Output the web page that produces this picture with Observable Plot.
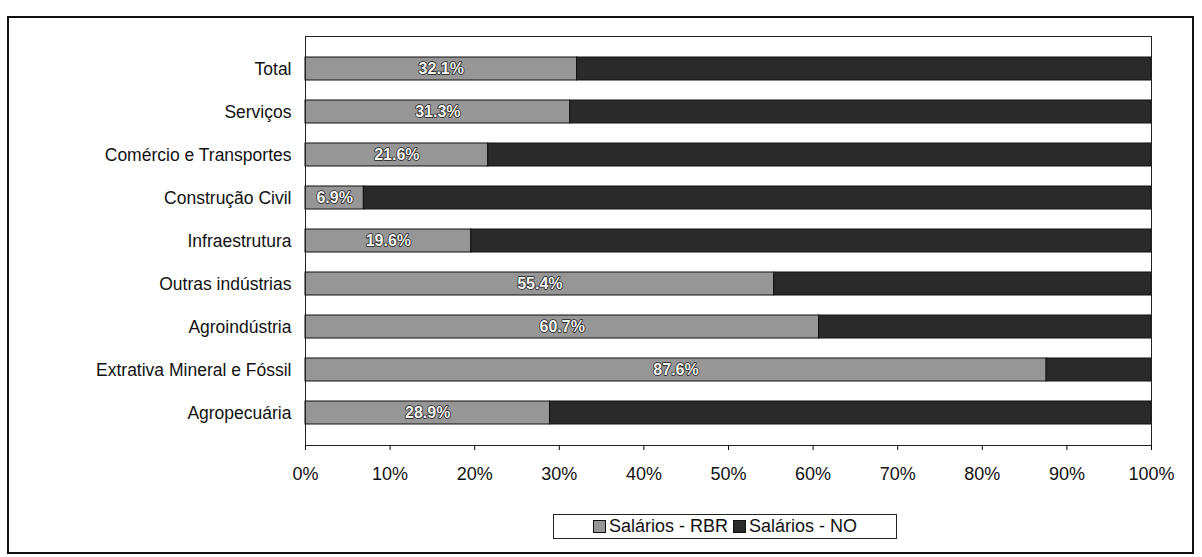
<!DOCTYPE html>
<html>
<head>
<meta charset="utf-8">
<script src="https://cdn.jsdelivr.net/npm/d3@7"></script>
<script src="https://cdn.jsdelivr.net/npm/@observablehq/plot@0.6"></script>
<style>
  body { margin: 0; background: #fff; font-family: Arial, "Liberation Sans", Helvetica, sans-serif; }
  #wrap { position: relative; width: 1202px; height: 557px; overflow: hidden; }
  #wrap svg { position: absolute; left: 0; top: 0; }
  #outer { position: absolute; left: 7px; top: 16px; width: 1187px; height: 538px; border: 2px solid #111; box-sizing: border-box; pointer-events: none; }
  #legend { position: absolute; left: 553px; top: 514px; width: 344px; height: 25px; border: 1px solid #222; box-sizing: border-box;
            display: flex; align-items: center; justify-content: center; gap: 5px; font-size: 18px; color: #111; background: #fff; }
  .sw { display: inline-block; width: 11px; height: 11px; border: 1px solid #111; margin-right: 3px; vertical-align: middle; position: relative; top: -1px; }
</style>
</head>
<body>
<div id="wrap">
  <div id="outer"></div>
  <div id="legend"></div>
</div>
<script>
const categories = ["Total", "Serviços", "Comércio e Transportes", "Construção Civil", "Infraestrutura",
  "Outras indústrias", "Agroindústria", "Extrativa Mineral e Fóssil", "Agropecuária"];
const rbr = [32.1, 31.3, 21.6, 6.9, 19.6, 55.4, 60.7, 87.6, 28.9];
const seriesNames = ["Salários - RBR", "Salários - NO"];
const seriesColors = ["#969696", "#2a2a2a"];
const xTicks = [0, 10, 20, 30, 40, 50, 60, 70, 80, 90, 100];

const rows = [];
categories.forEach((c, i) => {
  rows.push({cat: c, series: seriesNames[0], value: rbr[i], order: 0});
  rows.push({cat: c, series: seriesNames[1], value: 100 - rbr[i], order: 1});
});
const labels = categories.map((c, i) => ({cat: c, value: rbr[i], text: rbr[i].toFixed(1) + "%"}));

const chart = Plot.plot({
  width: 1202,
  height: 557,
  marginLeft: 305,
  marginRight: 51,
  marginTop: 36,
  marginBottom: 112,
  style: {fontFamily: "Arial, 'Liberation Sans', Helvetica, sans-serif", background: "transparent"},
  x: {domain: [0, 100], label: null},
  y: {domain: categories, padding: 0.46, label: null},
  color: {domain: seriesNames, range: seriesColors},
  marks: [
    Plot.barX(rows, Plot.stackX({x: "value", y: "cat", fill: "series", order: "order", stroke: "#111", strokeWidth: 1})),
    Plot.text(labels, {x: d => d.value / 2, y: "cat", text: "text", fill: "#f4f4f4", stroke: "#222", strokeWidth: 1.5,
      paintOrder: "stroke", fontSize: 16, fontWeight: "bold"}),
    Plot.frame({stroke: "#222", strokeWidth: 1}),
    Plot.axisX({ticks: xTicks, tickFormat: d => d + "%", tickSize: 5, tickPadding: 17, fontSize: 18, label: null, fill: "#111"}),
    Plot.axisY({tickSize: 0, tickPadding: 14, fontSize: 17.5, label: null, fill: "#111"})
  ]
});
document.getElementById("wrap").insertBefore(chart, document.getElementById("outer"));

const leg = document.getElementById("legend");
seriesNames.forEach((s, i) => {
  const span = document.createElement("span");
  const sw = document.createElement("span");
  sw.className = "sw";
  sw.style.background = seriesColors[i];
  span.appendChild(sw);
  span.appendChild(document.createTextNode(s));
  leg.appendChild(span);
});
</script>
</body>
</html>
